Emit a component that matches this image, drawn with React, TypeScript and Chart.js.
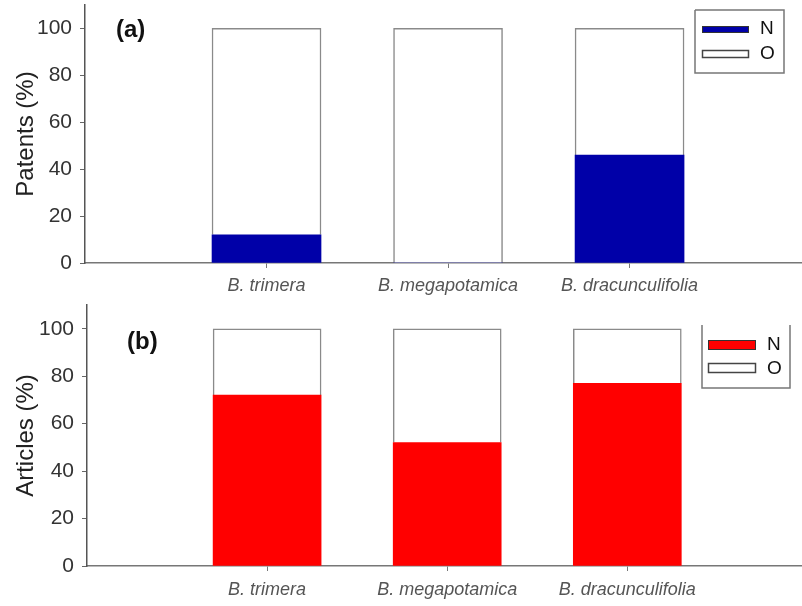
import React, { useEffect, useRef } from "react";
import { Chart, registerables } from "chart.js";

Chart.register(...registerables);

const categories = ["B. trimera", "B. megapotamica", "B. dracunculifolia"];
const patentsN = [12, 0, 46];
const patentsO = [88, 100, 54];
const articlesN = [72, 52, 77];
const articlesO = [28, 48, 23];
const yTickValues = [0, 20, 40, 60, 80, 100];
const seriesNames = ["N", "O"];

type PanelProps = {
  nValues: number[];
  oValues: number[];
  nColor: string;
  yTitle: string;
  panelLabel: string;
  xMax: number;
  yAxisWidth: number;
  padTop: number;
  barThickness: number;
  xLabelPad: number;
  legendBox: { x: number; y: number; w: number; h: number; sw: number[]; so: number[]; tx: number; ny: number; oy: number; top: boolean };
  labelPos: { x: number; y: number };
};

function Panel(p: PanelProps) {
  const ref = useRef<HTMLCanvasElement | null>(null);
  useEffect(() => {
    if (!ref.current) return;
    const overlay = {
      id: "overlay",
      afterDraw(chart: any) {
        const ctx = chart.ctx as CanvasRenderingContext2D;
        ctx.save();
        ctx.fillStyle = "#111";
        ctx.font = "bold 24px 'Liberation Sans', Arial, sans-serif";
        ctx.textAlign = "left";
        ctx.textBaseline = "middle";
        ctx.fillText(p.panelLabel, p.labelPos.x, p.labelPos.y);
        const lb = p.legendBox;
        ctx.strokeStyle = "#777";
        ctx.lineWidth = 1.5;
        ctx.beginPath();
        if (lb.top) {
          ctx.moveTo(lb.x, lb.y);
          ctx.lineTo(lb.x + lb.w, lb.y);
        } else {
          ctx.moveTo(lb.x + lb.w, lb.y);
        }
        ctx.lineTo(lb.x + lb.w, lb.y + lb.h);
        ctx.lineTo(lb.x, lb.y + lb.h);
        ctx.lineTo(lb.x, lb.y);
        ctx.stroke();
        ctx.fillStyle = p.nColor;
        ctx.fillRect(lb.sw[0], lb.sw[1], lb.sw[2], lb.sw[3]);
        ctx.strokeStyle = "#333";
        ctx.lineWidth = 1;
        ctx.strokeRect(lb.sw[0] + 0.5, lb.sw[1] + 0.5, lb.sw[2] - 1, lb.sw[3] - 1);
        ctx.fillStyle = "#fff";
        ctx.fillRect(lb.so[0], lb.so[1], lb.so[2], lb.so[3]);
        ctx.strokeStyle = "#444";
        ctx.lineWidth = 1.5;
        ctx.strokeRect(lb.so[0] + 0.5, lb.so[1] + 0.5, lb.so[2] - 1, lb.so[3] - 1);
        ctx.fillStyle = "#111";
        ctx.font = "19px 'Liberation Sans', Arial, sans-serif";
        ctx.fillText(seriesNames[0], lb.tx, lb.ny);
        ctx.fillText(seriesNames[1], lb.tx, lb.oy);
        ctx.restore();
      },
    };
    const chart = new Chart(ref.current, {
      type: "bar",
      data: {
        datasets: [
          {
            label: seriesNames[0],
            data: p.nValues.map((v, i) => ({ x: i + 1, y: v })),
            backgroundColor: p.nColor,
            borderWidth: 0,
            barThickness: p.barThickness,
          },
          {
            label: seriesNames[1],
            data: p.oValues.map((v, i) => ({ x: i + 1, y: v })),
            backgroundColor: "#ffffff",
            borderColor: "#8a8a8a",
            borderWidth: 1.5,
            barThickness: p.barThickness,
          },
        ],
      },
      options: {
        responsive: false,
        animation: false,
        layout: { padding: { top: p.padTop, right: 0, left: 0, bottom: 0 } },
        plugins: { legend: { display: false }, tooltip: { enabled: false } },
        scales: {
          x: {
            type: "linear",
            stacked: true,
            offset: false,
            min: 0,
            max: p.xMax,
            afterBuildTicks: (s: any) => {
              s.ticks = categories.map((_, i) => ({ value: i + 1 }));
            },
            afterFit: (s: any) => {
              s.height = 40;
              s.paddingLeft = 0;
              s.paddingRight = 0;
            },
            ticks: {
              autoSkip: false,
              maxRotation: 0,
              padding: p.xLabelPad,
              color: "#555",
              font: { family: "'Liberation Sans', Arial, sans-serif", size: 18, style: "italic" },
              callback: (v: any) => categories[Number(v) - 1] ?? "",
            },
            grid: { display: true, offset: false, drawOnChartArea: false, tickLength: 5, color: "#777" },
            border: { display: true, color: "#777", width: 1.5 },
          },
          y: {
            stacked: true,
            min: 0,
            max: 110,
            afterBuildTicks: (s: any) => {
              s.ticks = yTickValues.map((v) => ({ value: v }));
            },
            afterFit: (s: any) => {
              s.width = p.yAxisWidth;
              s.paddingTop = 0;
              s.paddingBottom = 0;
            },
            ticks: {
              padding: 8,
              color: "#333",
              font: { family: "'Liberation Sans', Arial, sans-serif", size: 21 },
            },
            grid: { display: true, drawOnChartArea: false, tickLength: 5, color: "#666" },
            border: { display: true, color: "#555", width: 1.5 },
            title: {
              display: true,
              text: p.yTitle,
              color: "#222",
              padding: { top: 12, bottom: 0 },
              font: { family: "'Liberation Sans', Arial, sans-serif", size: 24 },
            },
          },
        },
      },
      plugins: [overlay],
    } as any);
    return () => chart.destroy();
  }, []);
  return <canvas ref={ref} width={802} height={303} style={{ display: "block", width: 802, height: 303 }} />;
}

export default function App() {
  return (
    <div style={{ position: "fixed", left: 0, top: 0, width: 802, height: 606, background: "#fff" }}>
      <Panel
        nValues={patentsN}
        oValues={patentsO}
        nColor="#0000a8"
        yTitle="Patents (%)"
        panelLabel="(a)"
        xMax={3.95}
        yAxisWidth={85}
        padTop={5}
        barThickness={109}
        xLabelPad={7}
        legendBox={{ x: 695, y: 10, w: 89, h: 63, sw: [702, 26, 47, 7], so: [702, 50, 47, 8], tx: 760, ny: 29, oy: 54, top: true }}
        labelPos={{ x: 116, y: 30 }}
      />
      <Panel
        nValues={articlesN}
        oValues={articlesO}
        nColor="#ff0000"
        yTitle="Articles (%)"
        panelLabel="(b)"
        xMax={3.97}
        yAxisWidth={87}
        padTop={2}
        barThickness={108}
        xLabelPad={8}
        legendBox={{ x: 702, y: 22, w: 88, h: 63, sw: [708, 37, 48, 10], so: [708, 60, 48, 10], tx: 767, ny: 42, oy: 66, top: false }}
        labelPos={{ x: 127, y: 39 }}
      />
    </div>
  );
}
